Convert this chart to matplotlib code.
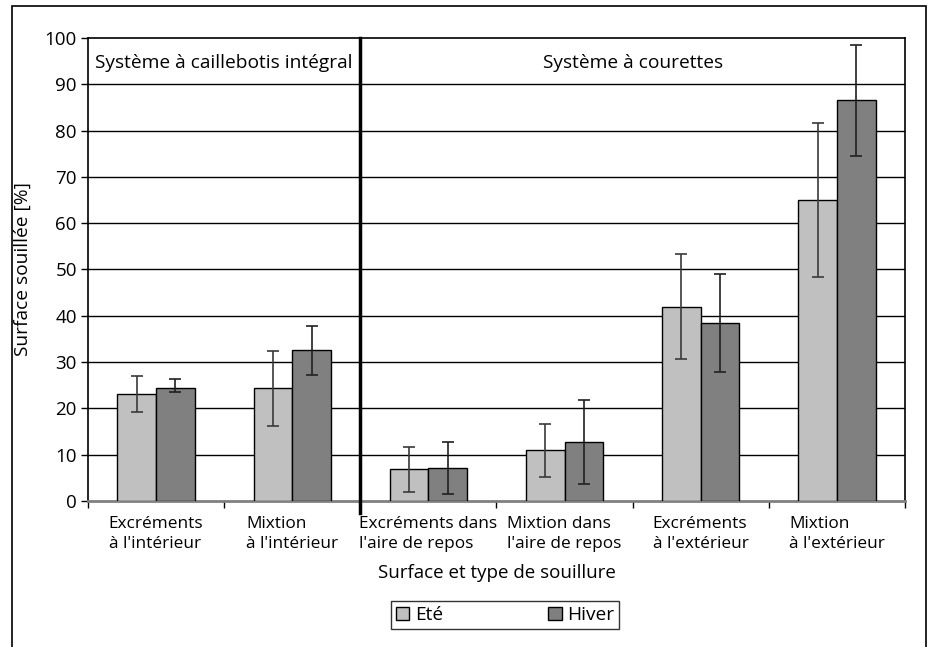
import matplotlib.pyplot as plt
from matplotlib.patches import Rectangle
import numpy as np

plt.rcParams['font.family'] = ['Open Sans', 'DejaVu Sans']

categories = ["Excréments\nà l'intérieur", "Mixtion\nà l'intérieur",
              "Excréments dans\nl'aire de repos", "Mixtion dans\nl'aire de repos",
              "Excréments\nà l'extérieur", "Mixtion\nà l'extérieur"]
ete = [23.0, 24.3, 6.8, 11.0, 42.0, 65.0]
ete_lo = [19.2, 16.3, 2.0, 5.2, 30.7, 48.3]
ete_hi = [27.0, 32.3, 11.7, 16.7, 53.3, 81.7]
hiver = [24.5, 32.5, 7.1, 12.8, 38.5, 86.5]
hiver_lo = [23.5, 27.2, 1.5, 3.7, 27.8, 74.5]
hiver_hi = [26.3, 37.7, 12.7, 21.8, 49.1, 98.5]

ete = np.array(ete)
hiver = np.array(hiver)
ete_err = [ete - np.array(ete_lo), np.array(ete_hi) - ete]
hiver_err = [hiver - np.array(hiver_lo), np.array(hiver_hi) - hiver]

fs = 13.8

fig = plt.figure(figsize=(9.31, 6.47), dpi=100)
ax = fig.add_axes([0.0945, 0.2257, 0.8775, 0.7156])

x = np.arange(len(categories))
w = 0.284
ax.bar(x - w / 2, ete, w, color='#c0c0c0', edgecolor='black', lw=1, zorder=3, label='Eté')
ax.bar(x + w / 2, hiver, w, color='#808080', edgecolor='black', lw=1, zorder=3, label='Hiver')
ax.errorbar(x - w / 2, ete, yerr=ete_err, fmt='none', ecolor='#3a3a3a', elinewidth=1.2,
            capsize=4, capthick=1.2, zorder=4)
ax.errorbar(x + w / 2, hiver, yerr=hiver_err, fmt='none', ecolor='#202020', elinewidth=1.2,
            capsize=4, capthick=1.2, zorder=4)

ax.set_xlim(-0.5, 5.5)
ax.set_ylim(0, 100)
ax.set_yticks(range(0, 101, 10))
for v in range(10, 100, 10):
    ax.axhline(v, color='black', lw=1, zorder=1)

ax.set_xticks(x)
ax.set_xticklabels(categories, multialignment='left', linespacing=1.3)
ax.set_xticks(np.arange(-0.5, 6, 1), minor=True)
ax.tick_params(axis='x', which='major', length=0, pad=11, labelsize=12.4)
ax.tick_params(axis='x', which='minor', length=5, width=1, color='black')
ax.tick_params(axis='y', length=5, width=1, labelsize=13.5, pad=3)

for s in ['top', 'right', 'left']:
    ax.spines[s].set_color('black')
    ax.spines[s].set_linewidth(1.2)
ax.spines['bottom'].set_color('#808080')
ax.spines['bottom'].set_linewidth(2)

# separation between the two housing systems
ax.axvline(1.5, ymin=-0.025, ymax=1, color='black', lw=2.5, clip_on=False, zorder=5)
ax.text(0.5, 94.5, "Système à caillebotis intégral", ha='center', va='center', fontsize=fs)
ax.text(3.5, 94.5, "Système à courettes", ha='center', va='center', fontsize=fs)

ax.set_ylabel("Surface souillée [%]", fontsize=13.8, labelpad=9)
ax.set_xlabel("Surface et type de souillure", fontsize=13.5, labelpad=9)

leg = fig.legend(loc='center', bbox_to_anchor=(505 / 931, 1 - 615 / 647), ncol=2,
                 fontsize=fs, frameon=True, fancybox=False, edgecolor='black',
                 handlelength=0.7, handleheight=0.7, handletextpad=0.3,
                 columnspacing=5.5, borderpad=0.25)
leg.get_frame().set_linewidth(1)

fig.add_artist(Rectangle((12 / 931, -0.05), (926 - 12) / 931, 1 - 6 / 647 + 0.05,
                         transform=fig.transFigure, fill=False, edgecolor='black', lw=1.2))

fig.savefig('out.png', dpi=100)
